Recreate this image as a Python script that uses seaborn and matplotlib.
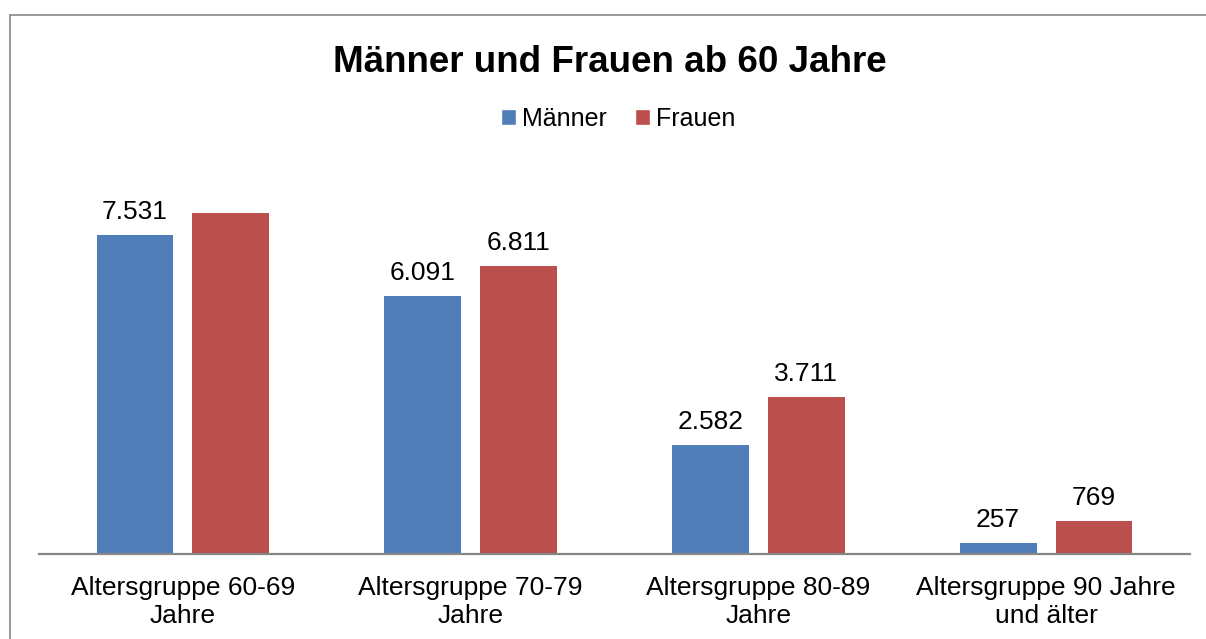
import pandas as pd
import matplotlib.pyplot as plt
from matplotlib.patches import Patch
from matplotlib.lines import Line2D
import seaborn as sns

# Werte aus dem Diagramm (Anzahl Personen)
categories = ["Altersgruppe 60-69\nJahre", "Altersgruppe 70-79\nJahre",
              "Altersgruppe 80-89\nJahre", "Altersgruppe 90 Jahre\nund älter"]
maenner = [7531, 6091, 2582, 257]
frauen = [8050, 6811, 3711, 769]
series = ["Männer", "Frauen"]
colors = ["#4F7EB8", "#BA4F4D"]

df = pd.DataFrame({
    "Gruppe": categories * 2,
    "Geschlecht": ["Männer"] * len(maenner) + ["Frauen"] * len(frauen),
    "Anzahl": maenner + frauen,
})

sns.set_style("white")
plt.rcParams["font.family"] = ["Liberation Sans", "DejaVu Sans"]
plt.rcParams["text.color"] = "black"
plt.rcParams["xtick.color"] = "black"

fig = plt.figure(figsize=(12.06, 6.39), dpi=100)
ax = fig.add_axes([39 / 1206, 85 / 639, 1151 / 1206, 381 / 639])

sns.barplot(data=df, x="Gruppe", y="Anzahl", hue="Geschlecht", hue_order=series,
            palette=colors, width=0.667, gap=0.2, saturation=1, ax=ax, legend=False,
            edgecolor="none")

ax.set_ylim(0, 9000)
ax.set_xlabel("")
ax.set_ylabel("")
ax.set_yticks([])
ax.tick_params(axis="x", length=0, pad=16, labelsize=19, labelcolor="black")
for lbl in ax.get_xticklabels():
    lbl.set_linespacing(1.22)
for side in ["top", "right", "left"]:
    ax.spines[side].set_visible(False)
ax.spines["bottom"].set_color("#868686")
ax.spines["bottom"].set_linewidth(1.6)

# Datenbeschriftungen (erster Frauen-Balken ist im Original ohne Beschriftung)
fmt = lambda v: f"{v:,}".replace(",", ".")
ax.bar_label(ax.containers[0], labels=[fmt(v) for v in maenner], padding=8, fontsize=19)
ax.bar_label(ax.containers[1], labels=[""] + [fmt(v) for v in frauen[1:]], padding=8, fontsize=19)

fig.text(610 / 1206, 1 - 72 / 639, "Männer und Frauen ab 60 Jahre", ha="center",
         va="baseline", fontsize=26.5, fontweight="bold")

handles = [Patch(facecolor=c, label=s) for c, s in zip(colors, series)]
fig.legend(handles=handles, loc="center", bbox_to_anchor=(618 / 1206, 1 - 119 / 639),
           ncol=2, frameon=False, fontsize=18, handlelength=0.6, handleheight=0.6,
           handletextpad=0.25, columnspacing=1.1)

# Rahmen des Diagrammbereichs (oben und links sichtbar)
fig.add_artist(Line2D([10 / 1206, 1.0], [1 - 15 / 639, 1 - 15 / 639], color="#888888", lw=1.2))
fig.add_artist(Line2D([10 / 1206, 10 / 1206], [0, 1 - 15 / 639], color="#888888", lw=1.2))

fig.savefig("out.png", dpi=100)
